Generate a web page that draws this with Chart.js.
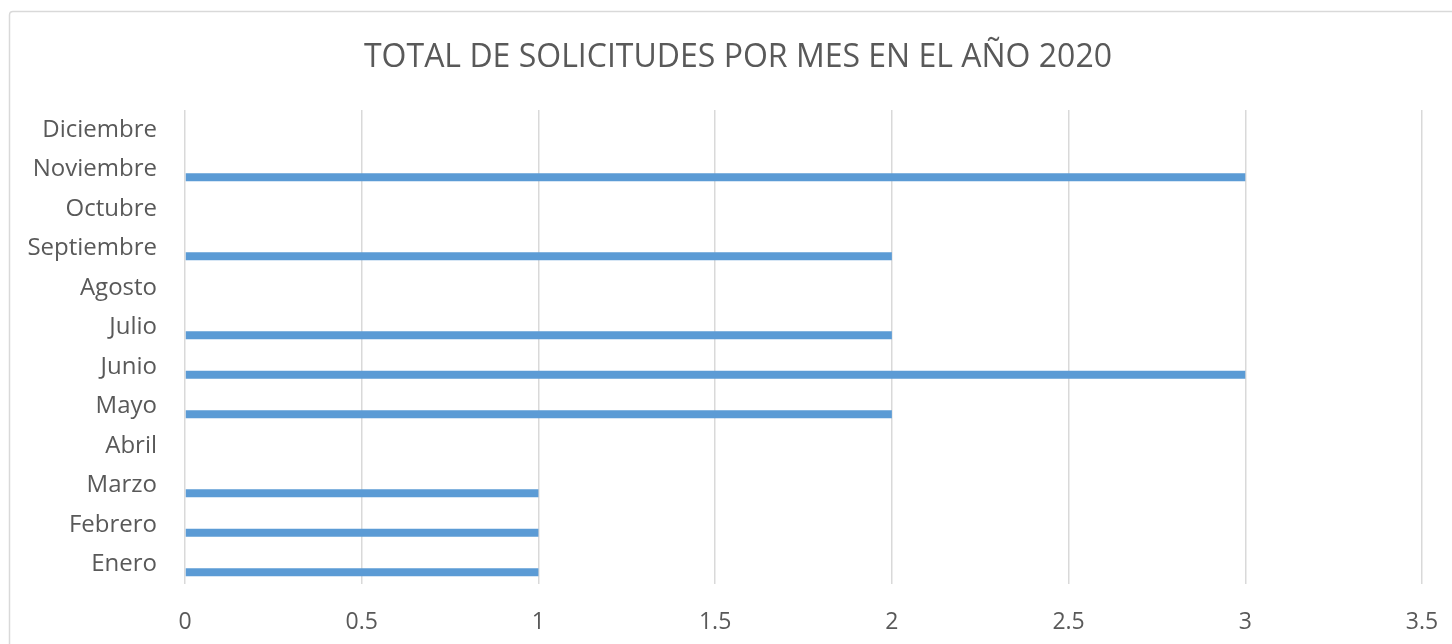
<!DOCTYPE html>
<html>
<head>
<meta charset="utf-8">
<script src="https://cdn.jsdelivr.net/npm/chart.js@4"></script>
<style>
  html, body { margin: 0; padding: 0; background: #ffffff; overflow: hidden; }
  #wrap { position: relative; width: 1452px; height: 644px; }
</style>
</head>
<body>
<div id="wrap"><canvas id="c"></canvas></div>
<script>
const chartTitle = "TOTAL DE SOLICITUDES POR MES EN EL AÑO 2020";
const months = ["Enero", "Febrero", "Marzo", "Abril", "Mayo", "Junio", "Julio", "Agosto", "Septiembre", "Octubre", "Noviembre", "Diciembre"];
const solicitudes = [1, 1, 1, 0, 2, 3, 2, 0, 2, 0, 3, 0];
const placeholderSeries = [null, null, null, null, null, null, null, null, null, null, null, null];
const xMin = 0, xMax = 3.5, xStep = 0.5;

const RIGHT_PAD = 30;

const frame = {
  id: 'frame',
  afterLayout(chart) {
    // centre the title over the chart frame (like the original), not the whole canvas
    if (chart.titleBlock) { chart.titleBlock.left = 54; }
  },
  beforeDraw(chart) {
    const ctx = chart.ctx;
    ctx.save();
    ctx.strokeStyle = '#d9d9d9';
    ctx.lineWidth = 1.5;
    ctx.beginPath();
    ctx.moveTo(9.5, 700);
    ctx.lineTo(9.5, 15);
    ctx.quadraticCurveTo(9.5, 11.5, 13, 11.5);
    ctx.lineTo(1500, 11.5);
    ctx.stroke();
    ctx.restore();
  }
};

new Chart(document.getElementById('c'), {
  type: 'bar',
  data: {
    labels: months,
    datasets: [
      { label: 'aux', data: placeholderSeries, backgroundColor: 'rgba(0,0,0,0)' },
      { label: 'Solicitudes', data: solicitudes, backgroundColor: '#5b9bd5', borderWidth: 0 }
    ]
  },
  plugins: [frame],
  options: {
    indexAxis: 'y',
    responsive: true,
    maintainAspectRatio: false,
    animation: false,
    categoryPercentage: 0.81,
    barPercentage: 0.5,
    layout: { padding: { left: 0, right: RIGHT_PAD, top: 0, bottom: 0 } },
    plugins: {
      legend: { display: false },
      tooltip: { enabled: false },
      title: {
        display: true,
        text: chartTitle,
        color: '#595959',
        font: { family: 'Open Sans', size: 32, weight: 'normal', lineHeight: 1.2 },
        padding: { top: 39, bottom: 32.6 }
      }
    },
    scales: {
      x: {
        type: 'linear',
        min: xMin,
        max: xMax,
        ticks: {
          stepSize: xStep,
          color: '#595959',
          font: { family: 'Open Sans', size: 23 },
          padding: 25,
          maxRotation: 0,
          callback: (v) => String(v)
        },
        grid: { color: '#d9d9d9', lineWidth: 1.5, drawTicks: false },
        border: { display: false },
        afterFit(scale) { scale.height = 60; scale.paddingLeft = 0; scale.paddingRight = 0; }
      },
      y: {
        reverse: true,
        ticks: {
          color: '#595959',
          font: { family: 'Open Sans', size: 24 },
          padding: 28,
          autoSkip: false
        },
        grid: { display: false, drawTicks: false },
        border: { display: false },
        afterFit(scale) { scale.width = 185; scale.paddingTop = 0; scale.paddingBottom = 0; }
      }
    }
  }
});
</script>
</body>
</html>
